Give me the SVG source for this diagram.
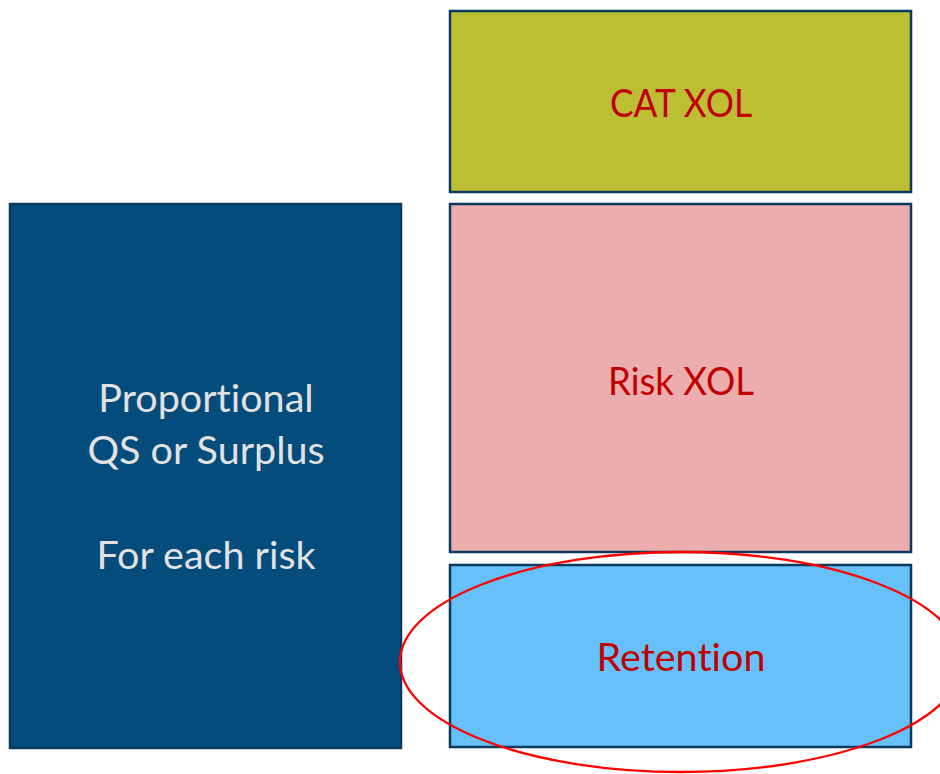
<svg xmlns="http://www.w3.org/2000/svg" width="940" height="774" viewBox="0 0 940 774">
<style>
.box{stroke:#0b3a5e;stroke-width:2.5}
text{font-family:Lato,"Open Sans",sans-serif;font-size:39.5px;text-anchor:middle;font-variant-ligatures:none}
.lbl{fill:#c00000}
.wl{fill:#e2e2e2}
</style>
<rect width="940" height="774" fill="#ffffff"/>
<g id="proportional">
<rect class="box" x="10" y="204" width="391" height="544" fill="#044c7b"/>
<text class="wl" x="206" y="412">Proportional</text>
<text class="wl" x="206" y="464">QS or Surplus</text>
<text class="wl" x="206" y="569">For each risk</text>
</g>
<g id="cat-xol">
<rect class="box" x="450" y="11" width="461" height="181" fill="#bcbf34"/>
<text class="lbl" x="681" y="117" textLength="142" lengthAdjust="spacingAndGlyphs">CAT XOL</text>
</g>
<g id="risk-xol">
<rect class="box" x="450" y="204" width="461" height="348" fill="#ecadae"/>
<text class="lbl" x="681" y="395" textLength="146" lengthAdjust="spacingAndGlyphs">Risk XOL</text>
</g>
<g id="retention">
<rect class="box" x="450" y="565" width="461" height="182" fill="#66c0fa"/>
<text class="lbl" x="681" y="671">Retention</text>
</g>
<g id="connectors">
<ellipse cx="681" cy="662" rx="281" ry="110" fill="none" stroke="#ff0000" stroke-width="2.3"/>
</g>
</svg>
